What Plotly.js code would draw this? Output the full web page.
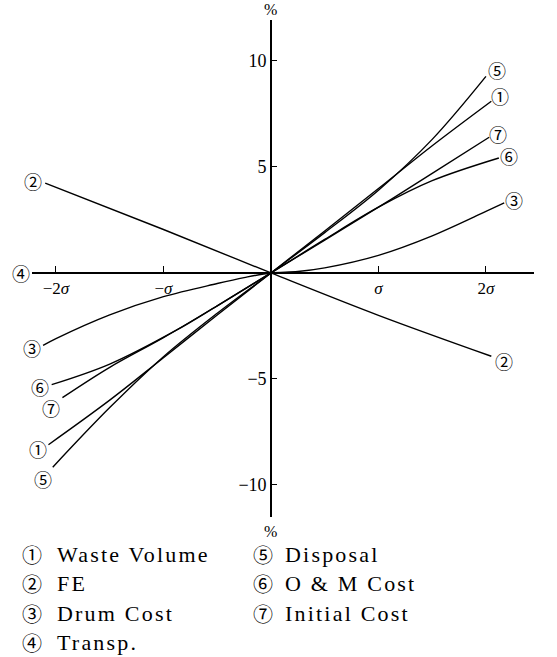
<!DOCTYPE html>
<html><head><meta charset="utf-8">
<script src="https://cdn.plot.ly/plotly-3.0.1.min.js"></script>
<style>
html,body{margin:0;padding:0;background:#fff}
.annotation-text{letter-spacing:2.2px}
</style>
</head><body>
<div id="chart" style="width:557px;height:657px"></div>
<script>
// ---- data (x in units of sigma, y in %) ----
const marks = ["①","②","③","④","⑤","⑥","⑦"];
const names = ["Waste Volume","FE","Drum Cost","Transp.","Disposal","O & M Cost","Initial Cost"];
const xTickVals = [-2,-1,1,2];
const xTickText = ["−2<i>σ</i>","−<i>σ</i>","<i>σ</i>","2<i>σ</i>"];
const yTickVals = [-10,-5,5,10];

const x1 = [-2.07,-1.5,-1,-0.5,0,0.5,1,1.5,2.05];
const y1 = [-8.1,-6.0,-4.0,-1.98,0,1.98,3.98,6.0,8.1];
const x2 = [-2.1,-1,0,1,2.05];
const y2 = [4.24,2.05,0,-2.0,-3.93];
const x3 = [-2.12,-2,-1.5,-1,-0.5,-0.25,0,0.25,0.5,1,1.5,2,2.17];
const y3 = [-3.42,-3.1,-1.98,-1.12,-0.5,-0.22,0,0.07,0.24,0.83,1.75,2.9,3.3];
const x4 = [-2.22,2.45];
const y4 = [0,0];
const x5 = [-2.03,-1.5,-1,-0.5,0,0.5,1,1.5,2.0];
const y5 = [-9.16,-6.35,-3.95,-1.9,0,1.9,3.9,6.3,9.27];
const x6 = [-2.04,-1.5,-0.88,-0.5,0,0.5,1,1.5,2.12];
const y6 = [-5.27,-4.3,-2.7,-1.55,0,1.58,3.1,4.35,5.42];
const x7 = [-1.94,-1.5,-1,-0.5,0,0.5,1,1.5,2.03];
const y7 = [-5.88,-4.45,-3.05,-1.55,0,1.55,3.1,4.7,6.4];

const series = [[x1,y1],[x2,y2],[x3,y3],[x4,y4],[x5,y5],[x6,y6],[x7,y7]];

// ---- layout / style ----
const W=557, H=657, M={l:32,r:23,t:20,b:140};
const XR=[-2.223,2.447], YR=[-11.51,11.93];
const pw=W-M.l-M.r, ph=H-M.t-M.b;
const px2x = X => (X-M.l)/pw;
const px2y = Y => (H-M.b-Y)/ph;
const SERIF = "Liberation Serif, serif";
const CIRC = "Noto Sans CJK JP, DejaVu Sans";
// label offsets [left end dx,dy],[right end dx,dy] in px (dy up positive)
const offs = [
  [[-10,-4],[9,5]],
  [[-12,2],[13,-5]],
  [[-11,-3],[10,3]],
  [[-11,0],[11,0]],
  [[-10,-12],[11,6]],
  [[-12,-2],[10,2]],
  [[-11,-10],[9,3]]
];

const traces = series.map((s,i)=>({
  x:s[0], y:s[1], type:'scatter', mode:'lines', name:names[i],
  line:{color:'#000', width:1.4, shape:'spline', smoothing:1}, hoverinfo:'skip', showlegend:false
}));

const ann = [];
series.forEach((s,i)=>{
  const n=s[0].length;
  [[0,0],[n-1,1]].forEach(([k,side])=>{
    ann.push({x:s[0][k], y:s[1][k], xref:'x', yref:'y', text:marks[i], showarrow:false,
      xshift:offs[i][side][0]+1, yshift:offs[i][side][1],
      font:{family:CIRC, size:18, color:'#000'}, xanchor:'center', yanchor:'middle'});
  });
});
// % labels
ann.push({x:0, y:1, xref:'x', yref:'paper', text:'%', showarrow:false, yanchor:'bottom', yshift:0, xshift:1,
  font:{family:SERIF,size:16,color:'#000'}});
ann.push({x:0, y:0, xref:'x', yref:'paper', text:'%', showarrow:false, yanchor:'top', yshift:-4, xshift:1,
  font:{family:SERIF,size:16,color:'#000'}});
// legend text
const colCirc=[31.7,263.3], colText=[55,283], rows=[554,583.5,613,642];
names.forEach((nm,i)=>{
  const col = i<4?0:1, row = i<4?i:i-4;
  ann.push({x:px2x(colCirc[col]), y:px2y(rows[row]), xref:'paper', yref:'paper', text:marks[i],
    showarrow:false, xanchor:'center', yanchor:'middle', xshift:1, font:{family:CIRC,size:20,color:'#000'}});
  ann.push({x:px2x(colText[col]), y:px2y(rows[row]), xref:'paper', yref:'paper', text:nm,
    showarrow:false, xanchor:'left', yanchor:'middle', font:{family:SERIF,size:22,color:'#000'}});
});

const layout = {
  width:W, height:H, margin:M, paper_bgcolor:'#fff', plot_bgcolor:'#fff', showlegend:false,
  font:{family:SERIF, color:'#000', size:18},
  xaxis:{range:XR, anchor:'free', position:(0-YR[0])/(YR[1]-YR[0]), showline:true, linecolor:'#000', linewidth:1.6,
    ticks:'inside', ticklen:6, tickwidth:1.3, tickcolor:'#000', tickvals:xTickVals, ticktext:xTickText,
    showgrid:false, zeroline:false, tickfont:{family:SERIF,size:17,color:'#000'}},
  yaxis:{range:YR, anchor:'free', position:(0-XR[0])/(XR[1]-XR[0]), showline:true, linecolor:'#000', linewidth:1.6,
    ticks:'inside', ticklen:5, tickwidth:1.3, tickcolor:'#000', tickvals:yTickVals,
    ticktext:yTickVals.map(v=>v<0?'−'+(-v):String(v)),
    showgrid:false, zeroline:false, tickfont:{family:SERIF,size:18,color:'#000'}},
  annotations:ann
};
Plotly.newPlot('chart', traces, layout, {displayModeBar:false});
</script></body></html>
